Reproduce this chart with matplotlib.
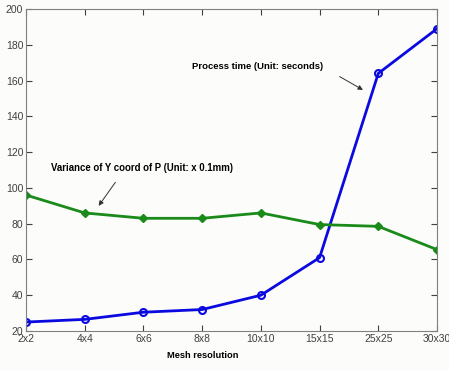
import matplotlib
matplotlib.use("Agg")
import matplotlib.pyplot as plt

categories = ["2x2", "4x4", "6x6", "8x8", "10x10", "15x15", "25x25", "30x30"]
process_time = [25, 26.5, 30.5, 32, 40, 61, 164, 189]
variance_y = [96, 86, 83, 83, 86, 79.5, 78.5, 65.5]
yticks = [20, 40, 60, 80, 100, 120, 140, 160, 180, 200]

plt.rcParams['font.family'] = ['Liberation Sans', 'DejaVu Sans']
fig = plt.figure(figsize=(4.49, 3.71), dpi=100, facecolor='#fcfcfa')
ax = fig.add_axes([26/449, 1-331/371, (437-26)/449, (331-9)/371])
ax.set_facecolor('#fcfcfa')
x = list(range(len(categories)))
ax.plot(x, process_time, color='#0a0ae0', lw=2, marker='o', ms=5,
        mfc='none', mec='#0a0ae0', mew=1.5)
ax.plot(x, variance_y, color='#1a8a1a', lw=2, marker='D', ms=4,
        mfc='#1a8a1a', mec='#1a8a1a')
ax.set_xlim(0, len(categories)-1)
ax.set_ylim(20, 200)
ax.set_xticks(x)
ax.set_xticklabels(categories)
ax.set_yticks(yticks)
ax.tick_params(direction='in', length=4, labelsize=7.5, colors='#404040',
               top=True, right=True, pad=2)
for s in ax.spines.values():
    s.set_color('#808080')

ax.annotate("", xy=(5.78, 154), xytext=(5.3, 163),
            arrowprops=dict(arrowstyle='-|>', color='#333333', lw=0.7, mutation_scale=7))
ax.text(2.83, 168, "Process time (Unit: seconds)", fontsize=6.8,
        fontweight='bold', va='center', ha='left')
ax.annotate("", xy=(1.21, 88.7), xytext=(1.55, 104.4),
            arrowprops=dict(arrowstyle='-|>', color='#333333', lw=0.7, mutation_scale=7))
ax.text(0.43, 111, "Variance of Y coord of P (Unit: x 0.1mm)", fontsize=6.9,
        fontweight='bold', va='center', ha='left')
fig.text(203/449, 1-356/371, "Mesh resolution", fontsize=6.7,
         fontweight='bold', ha='center', va='center')
fig.savefig("out.png", dpi=100, facecolor=fig.get_facecolor())
